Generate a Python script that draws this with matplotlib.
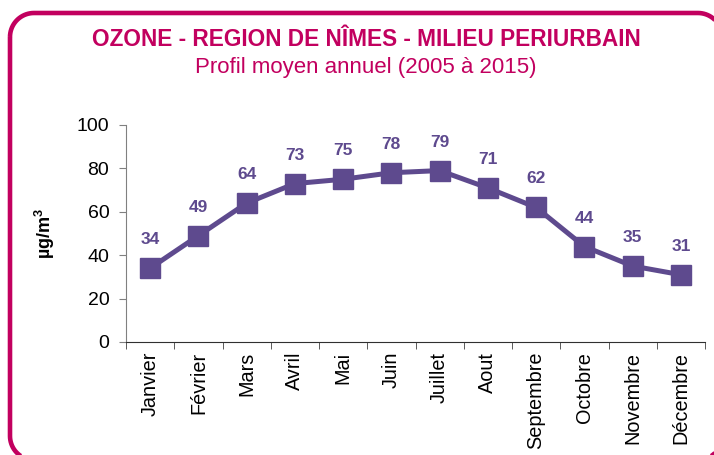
import matplotlib
matplotlib.use("Agg")
import matplotlib.pyplot as plt
from matplotlib.path import Path
from matplotlib.patches import PathPatch
import numpy as np

months = ["Janvier", "Février", "Mars", "Avril", "Mai", "Juin", "Juillet",
          "Aout", "Septembre", "Octobre", "Novembre", "Décembre"]
values = [34, 49, 64, 73, 75, 78, 79, 71, 62, 44, 35, 31]
yticks = [0, 20, 40, 60, 80, 100]

plt.rcParams['font.family'] = ['Liberation Sans', 'DejaVu Sans']
plt.rcParams['mathtext.fontset'] = 'custom'
plt.rcParams['mathtext.bf'] = 'Liberation Sans:bold'
plt.rcParams['mathtext.rm'] = 'Liberation Sans'

W, H = 714, 455
fig = plt.figure(figsize=(W / 100, H / 100), dpi=100)

magenta = '#C2005F'
purple = '#5E4A8E'

# Rounded frame in pixel coordinates (y measured from top), partly off-picture
x0, y0, x1, y1 = 10, 13, 722, 460
r = 24
pts = []
def arc(cx, cy, a0, a1):
    t = np.linspace(np.radians(a0), np.radians(a1), 20)
    return list(zip(cx + r * np.cos(t), cy + r * np.sin(t)))
pts += arc(x0 + r, y0 + r, 180, 270)
pts += arc(x1 - r, y0 + r, 270, 360)
pts += arc(x1 - r, y1 - r, 0, 90)
pts += arc(x0 + r, y1 - r, 90, 180)
pts.append(pts[0])
pts = [(px / W, 1 - py / H) for px, py in pts]
frame = PathPatch(Path(pts), transform=fig.transFigure, fill=False,
                  edgecolor=magenta, linewidth=3.3)
fig.patches.append(frame)

fig.text(366 / W, 1 - 40 / H, "OZONE - REGION DE NÎMES - MILIEU PERIURBAIN",
         ha='center', va='center', fontsize=16.3, fontweight='bold', color=magenta)
fig.text(366 / W, 1 - 68 / H, "Profil moyen annuel (2005 à 2015)",
         ha='center', va='center', fontsize=16, color=magenta)

ax = fig.add_axes([126 / W, 1 - 342 / H, (705 - 126) / W, (342 - 125) / H])
x = list(range(len(months)))
ax.plot(x, values, color=purple, linewidth=3.6, marker='s', markersize=14,
        markerfacecolor=purple, markeredgecolor=purple)
for xi, v in zip(x, values):
    ax.annotate(str(v), (xi, v), xytext=(0, 20.5), textcoords='offset points',
                ha='center', va='center', fontsize=12.5, fontweight='bold',
                color=purple)

ax.set_xlim(-0.5, len(months) - 0.5)
ax.set_ylim(0, 100)
ax.set_yticks(yticks)
ax.set_yticklabels([str(t) for t in yticks], fontsize=14)
ax.set_xticks(x)
ax.set_xticklabels(months, rotation=90, fontsize=14.3)
ax.set_xticks([i - 0.5 for i in range(len(months) + 1)], minor=True)
ax.tick_params(axis='x', which='major', length=0, pad=7)
ax.tick_params(axis='x', which='minor', length=5, direction='out', color='#404040')
ax.tick_params(axis='y', length=5, direction='out', color='#808080', pad=7)
for s in ['top', 'right']:
    ax.spines[s].set_visible(False)
ax.spines['left'].set_color('#808080')
ax.spines['bottom'].set_color('#303030')
ax.set_ylabel(r"µg/m$^{\mathbf{3}}$", fontsize=13, fontweight='bold', labelpad=14)

fig.savefig("out.png", dpi=100)
